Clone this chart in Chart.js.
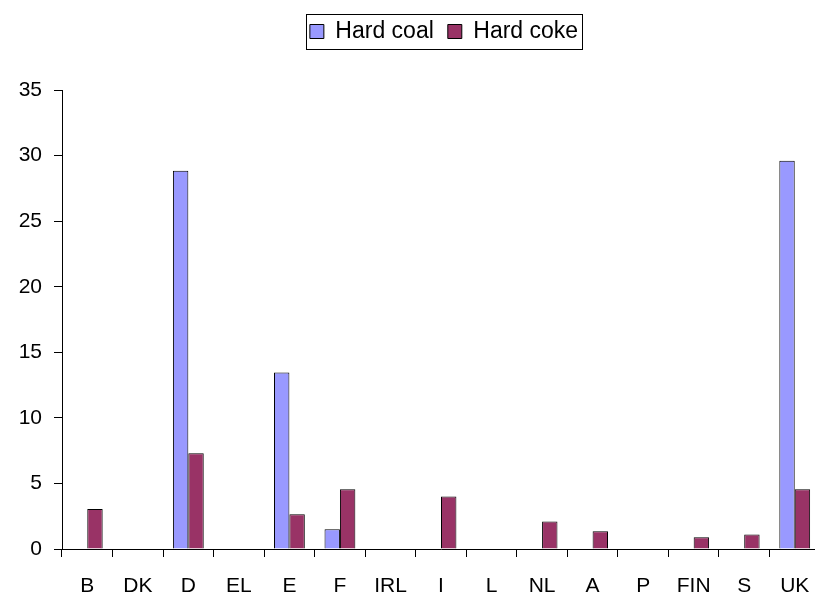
<!DOCTYPE html>
<html>
<head>
<meta charset="utf-8">
<script src="https://cdn.jsdelivr.net/npm/chart.js@4.4.1/dist/chart.umd.min.js"></script>
<style>
  html, body { margin: 0; padding: 0; background: #fff; overflow: hidden; }
  /* the original plot runs a few pixels past the right edge */
  #wrap { width: 822px; height: 596px; }
</style>
</head>
<body>
<div id="wrap"><canvas id="myChart"></canvas></div>
<script>
const countries = ['B', 'DK', 'D', 'EL', 'E', 'F', 'IRL', 'I', 'L', 'NL', 'A', 'P', 'FIN', 'S', 'UK'];
const hardCoal = [0, 0, 28.85, 0, 13.45, 1.5, 0, 0, 0, 0, 0, 0, 0, 0, 29.6];
const hardCoke = [3.05, 0, 7.3, 0, 2.65, 4.55, 0, 4.0, 0, 2.1, 1.35, 0, 0.9, 1.1, 4.55];
const yTicks = [0, 5, 10, 15, 20, 25, 30, 35];

const FONT = 'Liberation Sans, Arial, sans-serif';

// legend sits higher and a bit right of centre, with a box round it
const legendTweak = {
  id: 'legendTweak',
  afterInit(chart) {
    const lg = chart.legend;
    const fit = lg.fit;
    lg.fit = function () {
      fit.call(this);
      this.height += 37;
    };
  },
  afterLayout(chart) {
    chart.legend.left += 34;
    chart.legend.right += 34;
  },
  afterDraw(chart) {
    const boxes = chart.legend.legendHitBoxes;
    if (!boxes || !boxes.length) return;
    const left = Math.min(...boxes.map(b => b.left)) - 4;
    const right = Math.max(...boxes.map(b => b.left + b.width)) + 4;
    const top = Math.min(...boxes.map(b => b.top)) - 6;
    const bottom = Math.max(...boxes.map(b => b.top + b.height)) + 6;
    const ctx = chart.ctx;
    ctx.save();
    ctx.strokeStyle = '#000';
    ctx.lineWidth = 1;
    ctx.strokeRect(Math.round(left) + 0.5, Math.round(top) + 0.5, Math.round(right - left), Math.round(bottom - top));
    ctx.restore();
  }
};

const ctx = document.getElementById('myChart');

const data = {
  labels: countries,
  datasets: [
    {
      label: 'Hard coal',
      data: hardCoal,
      backgroundColor: '#9999FF',
      borderColor: '#000',
      borderWidth: 1
    },
    {
      label: 'Hard coke',
      data: hardCoke,
      backgroundColor: '#993366',
      borderColor: '#000',
      borderWidth: 1
    }
  ]
};

const config = {
  type: 'bar',
  data: data,
  options: {
    responsive: true,
    maintainAspectRatio: false,
    animation: false,
    layout: { padding: { top: 6, right: 2, bottom: 0, left: 0 } },
    datasets: {
      bar: { categoryPercentage: 0.61, barPercentage: 1.0 }
    },
    plugins: {
      legend: {
        position: 'top',
        labels: {
          color: '#000',
          font: { family: FONT, size: 23 },
          boxWidth: 14,
          boxHeight: 14,
          padding: 14
        }
      },
      tooltip: { enabled: false }
    },
    scales: {
      x: {
        grid: {
          display: true,
          drawOnChartArea: false,
          drawTicks: true,
          tickLength: 8,
          color: '#000'
        },
        border: { color: '#000' },
        ticks: {
          color: '#000',
          font: { family: FONT, size: 21 },
          padding: 17,
          maxRotation: 0,
          autoSkip: false
        },
        afterFit: s => {
          s.height = 47;
          s.paddingLeft = 0;
          s.paddingRight = 0;
        }
      },
      y: {
        min: 0,
        max: 35,
        afterBuildTicks: s => { s.ticks = yTicks.map(v => ({ value: v })); },
        grid: {
          display: true,
          drawOnChartArea: false,
          drawTicks: true,
          tickLength: 8,
          color: '#000'
        },
        border: { color: '#000' },
        ticks: {
          color: '#000',
          font: { family: FONT, size: 21 },
          padding: 12
        },
        afterFit: s => { s.width = 62; }
      }
    }
  },
  plugins: [legendTweak]
};

const myChart = new Chart(ctx, config);
</script>
</body>
</html>
